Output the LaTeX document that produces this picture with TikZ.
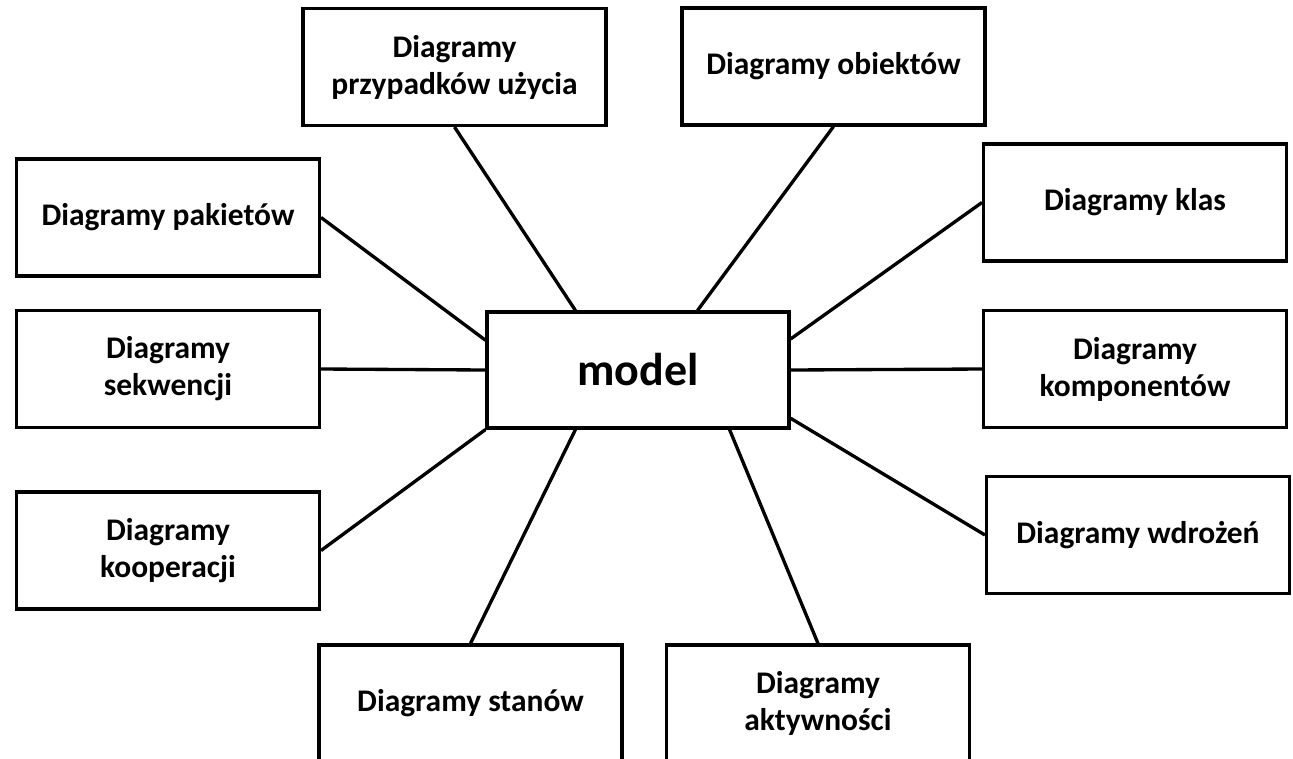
\documentclass[tikz,border=0pt]{standalone}
\usepackage{fontspec}
\setmainfont{Carlito}
\usetikzlibrary{calc}
\begin{document}
\begin{tikzpicture}[x=0.75pt,y=-0.75pt,
  box/.style={draw, line width=2.3pt, minimum width=227.25pt, minimum height=87.75pt,
    align=center, inner sep=0pt, font=\fontsize{23.6}{27.75}\selectfont\bfseries},
  mainbox/.style={draw, line width=2.3pt, minimum width=226.5pt, minimum height=87pt,
    inner sep=0pt, font=\fontsize{34.5}{40}\selectfont\bfseries},
  conn/.style={line width=2.5pt}]
\useasboundingbox (0,0) rectangle (1293,758);
\clip (0,0) rectangle (1293,758);
\fill[white] (0,0) rectangle (1293,758);

\node[mainbox] (m) at (638,370) {model};

\node[box] (p)  at (454.5,67)   {Diagramy\\przypadków użycia};
\node[box] (o)  at (833.5,66.5) {Diagramy obiektów};
\node[box] (pk) at (168,217.5)  {Diagramy pakietów};
\node[box] (kl) at (1135,202.5) {Diagramy klas};
\node[box] (s)  at (168,369)    {Diagramy\\sekwencji};
\node[box] (ko) at (1135,369)   {Diagramy\\komponentów};
\node[box] (k)  at (168,550.5)  {Diagramy\\kooperacji};
\node[box] (w)  at (1138,535)   {Diagramy wdrożeń};
\node[box] (st) at (470.5,703.5) {Diagramy stanów};
\node[box] (a)  at (818,703.5)  {Diagramy\\aktywności};

\draw[conn] (p.south) -- ($(m.north west)!0.295!(m.north east)$);
\draw[conn] (o.south) -- ($(m.north west)!0.695!(m.north east)$);
\draw[conn] (pk.east) -- ($(m.north west)!0.25!(m.south west)$);
\draw[conn] (s.east) -- (m.west);
\draw[conn] (k.east) -- (m.south west);
\draw[conn] (st.north) -- ($(m.south west)!0.295!(m.south east)$);
\draw[conn] (a.north) -- ($(m.south west)!0.80!(m.south east)$);
\draw[conn] (kl.west) -- ($(m.north east)!0.24!(m.south east)$);
\draw[conn] (ko.west) -- (m.east);
\draw[conn] (w.west) -- ($(m.north east)!0.905!(m.south east)$);
\end{tikzpicture}
\end{document}
